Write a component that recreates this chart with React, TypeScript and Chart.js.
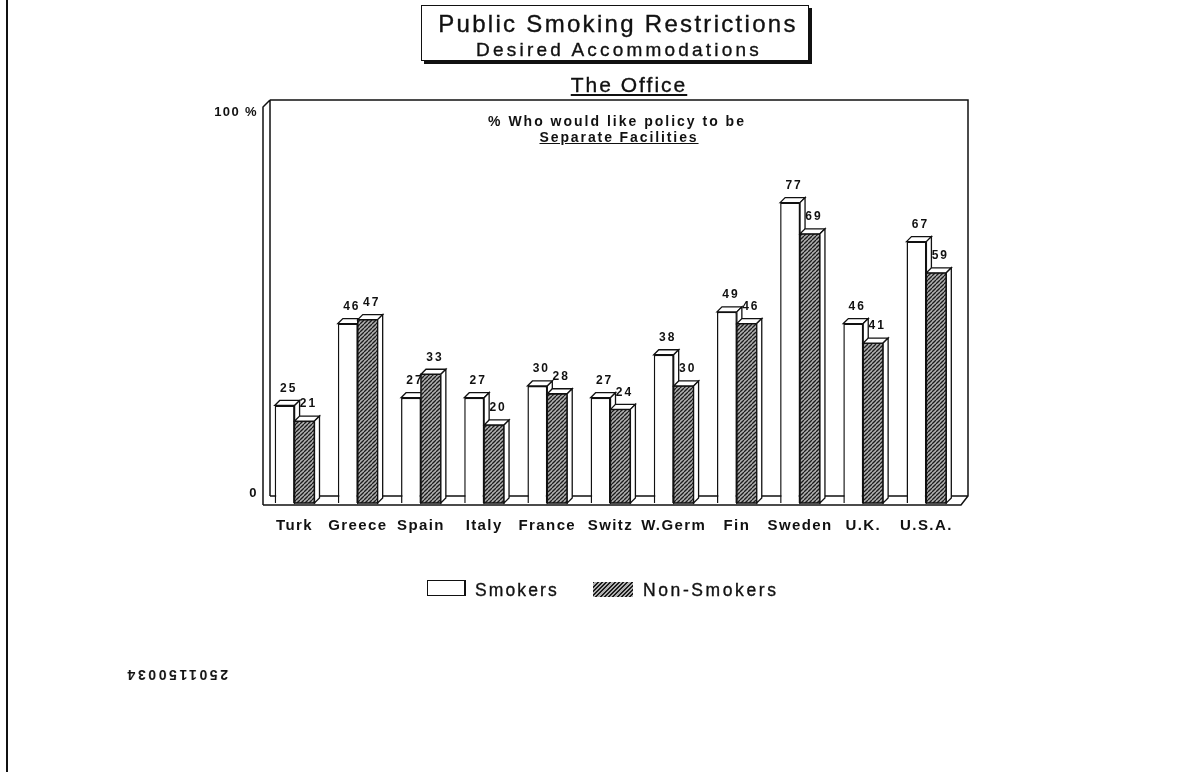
import React, { useEffect, useRef } from "react";
import { Chart, registerables } from "chart.js";

Chart.register(...registerables);

const categories = ["Turk", "Greece", "Spain", "Italy", "France", "Switz", "W.Germ", "Fin", "Sweden", "U.K.", "U.S.A."];
const smokers = [25, 46, 27, 27, 30, 27, 38, 49, 77, 46, 67];
const nonSmokers = [21, 47, 33, 20, 28, 24, 30, 46, 69, 41, 59];
const seriesLabels = ["Smokers", "Non-Smokers"];
const yTickValues = [0, 100];
const yTickLabels = ["0", "100 %"];

const FONT = '"Liberation Sans", Arial, Helvetica, sans-serif';
const INK = "#111";

function makePattern(): CanvasPattern | string {
  const c = document.createElement("canvas");
  const s = 4;
  c.width = s;
  c.height = s;
  const g = c.getContext("2d");
  if (!g) return "#777";
  g.fillStyle = "#b0b0b0";
  g.fillRect(0, 0, s, s);
  g.strokeStyle = "#1c1c1c";
  g.lineWidth = 1.3;
  for (const x0 of [-s, 0, s]) {
    g.beginPath();
    g.moveTo(x0, s);
    g.lineTo(x0 + s, 0);
    g.stroke();
  }
  const p = g.createPattern(c, "repeat");
  return p || "#777";
}

const D = 5; // bar depth
const W = 7; // wall depth

const threeD = {
  id: "threeD",
  beforeDraw(chart: any) {
    (chart.ctx as any).letterSpacing = "1.4px";
  },
  beforeDatasetsDraw(chart: any) {
    const { ctx, chartArea } = chart;
    const { left, right, top, bottom } = chartArea;
    const R = right + 10;
    ctx.save();
    ctx.strokeStyle = INK;
    ctx.lineWidth = 1.5;
    ctx.beginPath();
    ctx.moveTo(left, bottom + 2);
    ctx.lineTo(left, top + W);
    ctx.lineTo(left + W, top);
    ctx.moveTo(left + W, top);
    ctx.lineTo(left + W, bottom - W);
    ctx.moveTo(left + W, top);
    ctx.lineTo(R, top);
    ctx.lineTo(R, bottom - W);
    ctx.lineTo(R - W, bottom + 2);
    ctx.lineTo(left, bottom + 2);
    ctx.moveTo(left + W, bottom - W);
    ctx.lineTo(R, bottom - W);
    ctx.stroke();
    ctx.restore();
  },
  afterDatasetsDraw(chart: any) {
    const { ctx } = chart;
    const m0 = chart.getDatasetMeta(0);
    const m1 = chart.getDatasetMeta(1);
    const pattern = chart.data.datasets[1].backgroundColor;
    const faces = (p: any) => {
      const l = p.x - p.width / 2;
      const r = p.x + p.width / 2;
      const t = p.y;
      const b = p.base;
      ctx.fillStyle = "#fff";
      ctx.strokeStyle = INK;
      ctx.lineWidth = 1.3;
      ctx.beginPath();
      ctx.moveTo(l, t);
      ctx.lineTo(l + D, t - D);
      ctx.lineTo(r + D, t - D);
      ctx.lineTo(r, t);
      ctx.closePath();
      ctx.fill();
      ctx.stroke();
      ctx.beginPath();
      ctx.moveTo(r, t);
      ctx.lineTo(r + D, t - D);
      ctx.lineTo(r + D, b - D);
      ctx.lineTo(r, b);
      ctx.closePath();
      ctx.fill();
      ctx.stroke();
    };
    const label = (p: any, v: number) => {
      ctx.save();
      ctx.fillStyle = INK;
      ctx.font = `bold 12px ${FONT}`;
      (ctx as any).letterSpacing = "2px";
      ctx.textAlign = "center";
      ctx.textBaseline = "middle";
      ctx.fillText(String(v), p.x + 4, p.y - 17);
      ctx.restore();
    };
    ctx.save();
    for (let i = 0; i < m0.data.length; i++) {
      const p0 = m0.data[i].getProps(["x", "y", "base", "width"], true);
      const p1 = m1.data[i].getProps(["x", "y", "base", "width"], true);
      faces(p0);
      const l = p1.x - p1.width / 2;
      ctx.fillStyle = pattern;
      ctx.fillRect(l, p1.y, p1.width, p1.base - p1.y);
      ctx.strokeStyle = INK;
      ctx.lineWidth = 1.5;
      ctx.strokeRect(l, p1.y, p1.width, p1.base - p1.y);
      faces(p1);
      label(p0, chart.data.datasets[0].data[i]);
      label(p1, chart.data.datasets[1].data[i]);
    }
    ctx.restore();
  },
};

const abs = (o: React.CSSProperties): React.CSSProperties => ({
  position: "absolute",
  fontFamily: FONT,
  color: INK,
  whiteSpace: "nowrap",
  ...o,
});

export default function App() {
  const ref = useRef<HTMLCanvasElement | null>(null);

  useEffect(() => {
    if (!ref.current) return;
    const pattern = makePattern();
    const chart = new Chart(ref.current, {
      type: "bar",
      data: {
        labels: categories,
        datasets: [
          {
            label: seriesLabels[0],
            data: smokers,
            backgroundColor: "#fff",
            borderColor: INK,
            borderWidth: 1.5,
            categoryPercentage: 0.63,
            barPercentage: 1,
          },
          {
            label: seriesLabels[1],
            data: nonSmokers,
            backgroundColor: pattern as any,
            borderColor: INK,
            borderWidth: 1.5,
            categoryPercentage: 0.63,
            barPercentage: 1,
          },
        ],
      },
      options: {
        responsive: false,
        animation: false,
        layout: { padding: { left: 215, right: 225, top: 100, bottom: 229 } },
        plugins: {
          legend: { display: false },
          tooltip: { enabled: false },
          title: { display: false },
        },
        scales: {
          x: {
            grid: { display: false, drawTicks: false },
            border: { display: false },
            ticks: {
              font: { family: FONT, size: 15, weight: "bold" },
              color: INK,
              padding: 14,
              maxRotation: 0,
              autoSkip: false,
            },
            afterFit: (s: any) => {
              s.height = 40;
            },
          },
          y: {
            min: 0,
            max: 103.3,
            grid: { display: false, drawTicks: false },
            border: { display: false },
            afterBuildTicks: (s: any) => {
              s.ticks = yTickValues.map((v) => ({ value: v }));
            },
            ticks: {
              font: { family: FONT, size: 13, weight: "bold", lineHeight: 1.55 },
              color: INK,
              padding: 5,
              labelOffset: 0,
              callback: (v: any) => {
                const i = yTickValues.indexOf(Number(v));
                if (i < 0) return "";
                return Number(v) === 0 ? [yTickLabels[i], ""] : yTickLabels[i];
              },
            },
            afterFit: (s: any) => {
              s.width = 48;
            },
          },
        },
      },
      plugins: [threeD],
    });
    return () => chart.destroy();
  }, []);

  const hatch = "repeating-linear-gradient(135deg, #1c1c1c 0 1.3px, #b0b0b0 1.3px 3px)";
  const thick = { WebkitTextStroke: "0.35px #111" } as React.CSSProperties;

  return (
    <div>
      <canvas ref={ref} width={1183} height={772} style={{ position: "absolute", left: 0, top: 0, width: 1183, height: 772 }} />
      <div style={{ position: "absolute", left: 6, top: 0, width: 2, height: 772, background: INK }} />
      <div
        style={{
          position: "absolute",
          left: 421,
          top: 5,
          width: 386,
          height: 54,
          border: `1.5px solid ${INK}`,
          boxShadow: `3px 3px 0 ${INK}`,
          background: "#fff",
        }}
      />
      <div style={abs({ left: 421, width: 394, top: 12, fontSize: 24, lineHeight: "24px", textAlign: "center", letterSpacing: "2.3px", ...thick })}>
        Public Smoking Restrictions
      </div>
      <div style={abs({ left: 421, width: 396, top: 40, fontSize: 19, lineHeight: "19px", textAlign: "center", letterSpacing: "3.2px", ...thick })}>
        Desired Accommodations
      </div>
      <div
        style={abs({
          left: 529,
          width: 200,
          top: 74,
          fontSize: 21,
          lineHeight: "21px",
          textAlign: "center",
          letterSpacing: "2px",
          textDecoration: "underline",
          ...thick,
        })}
      >
        The Office
      </div>
      <div style={abs({ left: 467, width: 300, top: 114, fontSize: 14, lineHeight: "14px", fontWeight: "bold", textAlign: "center", letterSpacing: "2px" })}>
        % Who would like policy to be
      </div>
      <div
        style={abs({
          left: 469,
          width: 300,
          top: 130,
          fontSize: 14,
          lineHeight: "14px",
          fontWeight: "bold",
          textAlign: "center",
          letterSpacing: "1.9px",
          textDecoration: "underline",
        })}
      >
        Separate Facilities
      </div>
      <div style={{ position: "absolute", left: 427, top: 580, width: 36, height: 14, border: `1.5px solid ${INK}`, borderRightWidth: 2.5, background: "#fff" }} />
      <div style={abs({ left: 475, top: 582, fontSize: 17.5, lineHeight: "17.5px", letterSpacing: "2.1px", ...thick })}>{seriesLabels[0]}</div>
      <div style={{ position: "absolute", left: 593, top: 582, width: 40, height: 15, background: hatch }} />
      <div style={abs({ left: 643, top: 582, fontSize: 17.5, lineHeight: "17.5px", letterSpacing: "2.6px", ...thick })}>{seriesLabels[1]}</div>
      <div
        style={abs({
          left: 125,
          top: 668,
          fontSize: 14,
          lineHeight: "14px",
          fontWeight: "bold",
          letterSpacing: "2.6px",
          transform: "rotate(180deg)",
        })}
      >
        2501150034
      </div>
    </div>
  );
}
